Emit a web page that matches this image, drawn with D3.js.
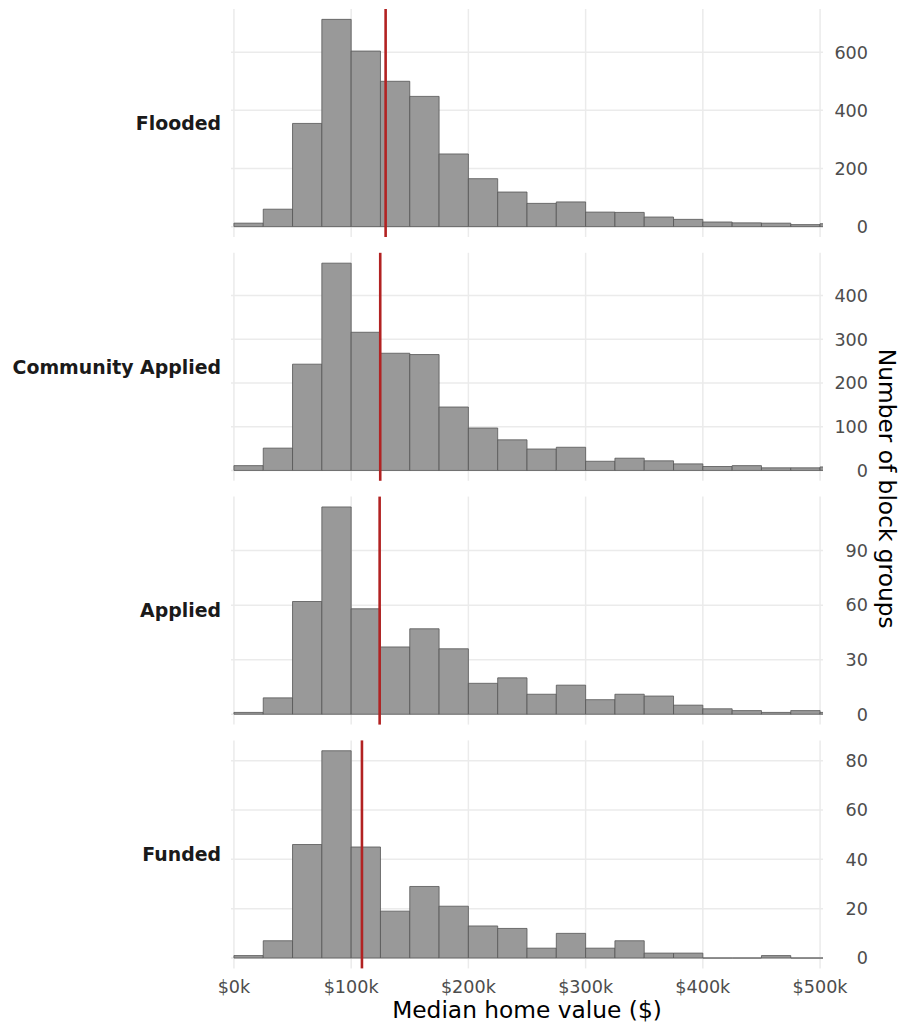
<!DOCTYPE html>
<html>
<head>
<meta charset="utf-8">
<script src="https://cdn.jsdelivr.net/npm/d3@7"></script>
<style>
  body { margin: 0; background: #fff; }
  svg text { font-family: "DejaVu Sans", Verdana, sans-serif; }
</style>
</head>
<body>
<svg width="902" height="1029"></svg>
<script>
// bins are 25k wide starting at $0k; last entry is the 500-525k bin (clipped at the edge)
var binStarts = d3.range(0, 525000, 25000);
var groups = ["Flooded", "Community Applied", "Applied", "Funded"];

var flooded   = [12, 60, 355, 713, 604, 500, 448, 250, 165, 119, 80, 85, 50, 49, 33, 25, 16, 13, 12, 7, 10];
var community = [11, 51, 243, 474, 316, 268, 265, 145, 97, 70, 49, 53, 21, 28, 22, 15, 9, 11, 6, 6, 8];
var applied   = [1, 9, 62, 114, 58, 37, 47, 36, 17, 20, 11, 16, 8, 11, 10, 5, 3, 2, 1, 2, 1];
var funded    = [1, 7, 46, 84, 45, 19, 29, 21, 13, 12, 4, 10, 4, 7, 2, 2, 0, 0, 1, 0, 0];
var counts = [flooded, community, applied, funded];

var medians = [129400, 124800, 124300, 109200];

var yTicks = [[0, 200, 400, 600], [0, 100, 200, 300, 400], [0, 30, 60, 90], [0, 20, 40, 60, 80]];
var xTicks = [0, 100000, 200000, 300000, 400000, 500000];

var svg = d3.select("svg"),
    panelTop = 9, panelH = 228, panelStep = 243.8,
    left = 231, right = 823,
    binWidth = 25000;

var x = d3.scaleLinear().domain([-2500, 502500]).range([left, right]);

svg.append("defs").append("clipPath").attr("id", "clip")
    .append("rect")
    .attr("x", left).attr("y", 0)
    .attr("width", right - left).attr("height", 1029);

groups.forEach(function(name, i) {
    var top = panelTop + i * panelStep;
    var vals = counts[i];
    var maxV = d3.max(vals);
    var y = d3.scaleLinear().domain([-0.05 * maxV, maxV * 1.05]).range([top + panelH, top]);

    var g = svg.append("g").attr("class", "panel");

    // grid
    g.selectAll(".hgrid").data(yTicks[i]).enter().append("line")
        .attr("x1", left).attr("x2", right)
        .attr("y1", function(d) { return y(d); })
        .attr("y2", function(d) { return y(d); })
        .attr("stroke", "#ebebeb").attr("stroke-width", 1.5);
    g.selectAll(".vgrid").data(xTicks).enter().append("line")
        .attr("x1", function(d) { return x(d); })
        .attr("x2", function(d) { return x(d); })
        .attr("y1", top).attr("y2", top + panelH)
        .attr("stroke", "#ebebeb").attr("stroke-width", 1.5);

    // bars (paths so that empty bins still show their outline on the baseline)
    g.append("g").attr("clip-path", "url(#clip)")
        .selectAll("path").data(vals).enter().append("path")
        .attr("d", function(d, j) {
            var x0 = x(binStarts[j]), x1 = x(binStarts[j] + binWidth);
            return "M" + x0 + "," + y(0) + "H" + x1 + "V" + y(d) + "H" + x0 + "Z";
        })
        .attr("fill", "#999999")
        .attr("stroke", "#555555")
        .attr("stroke-width", 0.8);

    // median line
    g.append("line")
        .attr("x1", x(medians[i])).attr("x2", x(medians[i]))
        .attr("y1", top).attr("y2", top + panelH)
        .attr("stroke", "#b22222").attr("stroke-width", 2.6);

    // right axis labels
    g.selectAll(".ylab").data(yTicks[i]).enter().append("text")
        .attr("x", 868)
        .attr("y", function(d) { return y(d); })
        .attr("dy", "0.36em")
        .attr("text-anchor", "end")
        .attr("fill", "#4d4d4d")
        .style("font-size", "17.6px")
        .text(function(d) { return d; });

    // strip label on the left
    g.append("text")
        .attr("x", 221)
        .attr("y", top + panelH / 2)
        .attr("dy", "0.36em")
        .attr("text-anchor", "end")
        .attr("fill", "#1a1a1a")
        .style("font-size", "18.9px")
        .style("font-weight", "bold")
        .text(name);
});

// x axis labels
svg.selectAll(".xlab").data(xTicks).enter().append("text")
    .attr("x", function(d) { return x(d); })
    .attr("y", 993)
    .attr("text-anchor", "middle")
    .attr("fill", "#4d4d4d")
    .style("font-size", "17.6px")
    .text(function(d) { return "$" + d / 1000 + "k"; });

svg.append("text")
    .attr("x", (left + right) / 2)
    .attr("y", 1018)
    .attr("text-anchor", "middle")
    .attr("fill", "#000")
    .style("font-size", "23.3px")
    .text("Median home value ($)");

svg.append("text")
    .attr("transform", "translate(879," + (panelTop + (3 * panelStep + panelH) / 2) + ") rotate(90)")
    .attr("text-anchor", "middle")
    .attr("fill", "#000")
    .style("font-size", "23.3px")
    .text("Number of block groups");
</script>
</body>
</html>
